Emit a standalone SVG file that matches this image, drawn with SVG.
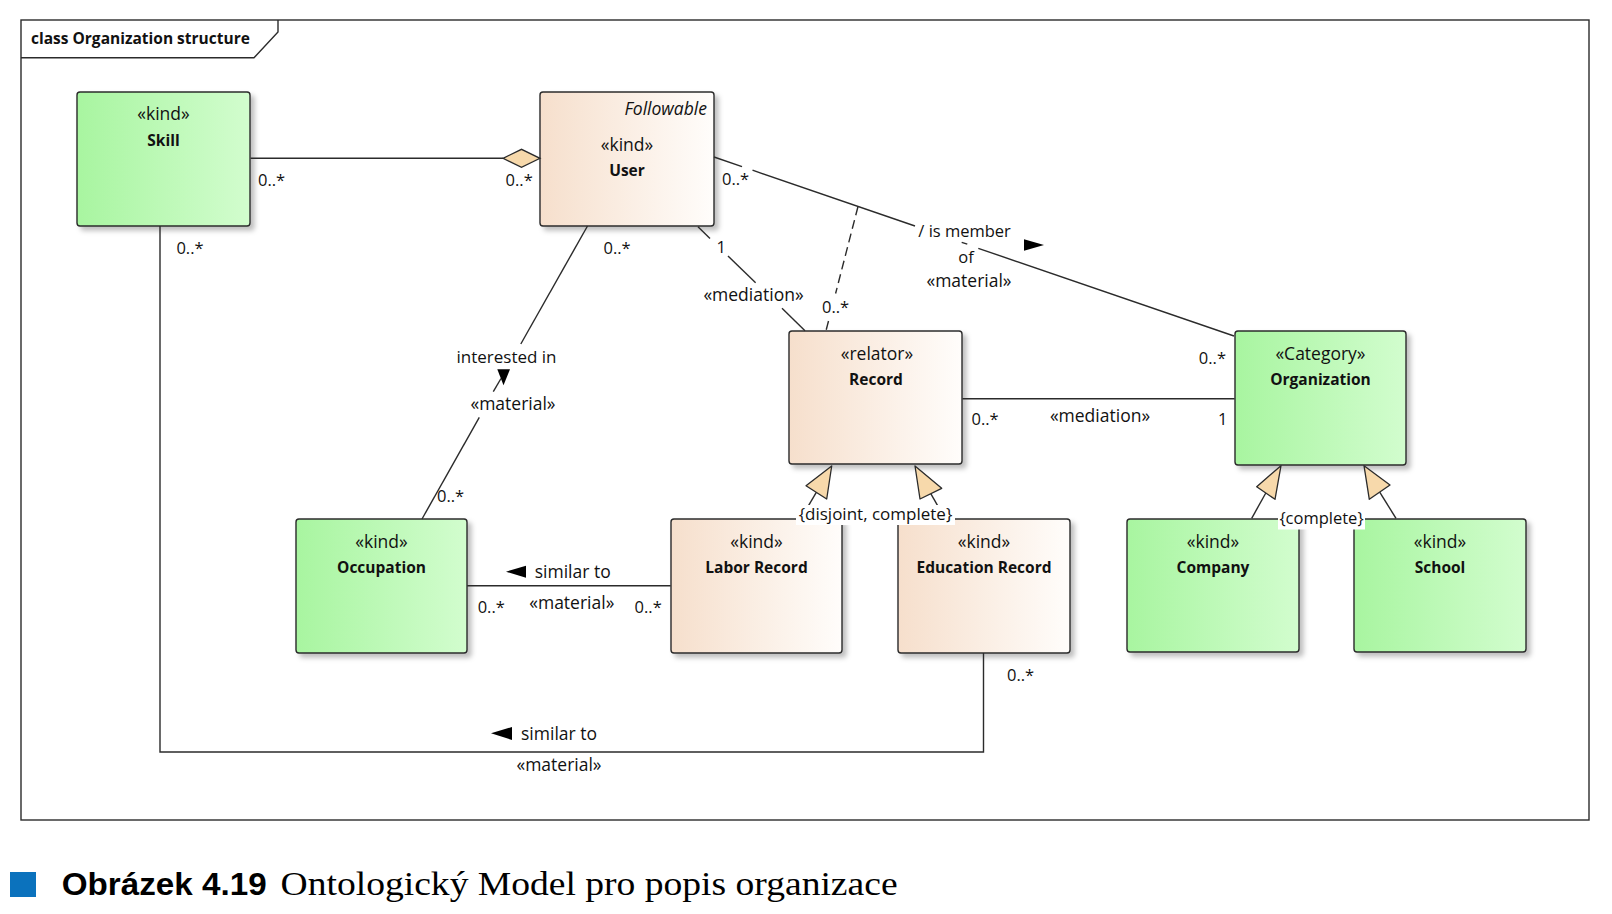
<svg xmlns="http://www.w3.org/2000/svg" width="1612" height="914" viewBox="0 0 1612 914">
<defs>
<linearGradient id="gGreen" x1="0" y1="0" x2="1" y2="0"><stop offset="0" stop-color="#a8f5a0"/><stop offset="1" stop-color="#d2fdce"/></linearGradient>
<linearGradient id="gBeige" x1="0" y1="0" x2="1" y2="0"><stop offset="0" stop-color="#f6dfcc"/><stop offset="1" stop-color="#fffdfb"/></linearGradient>
<filter id="sh" x="-10%" y="-10%" width="130%" height="130%"><feDropShadow dx="4" dy="4" stdDeviation="2.5" flood-color="#000" flood-opacity="0.25"/></filter>
</defs>
<style>
.box{stroke:#2b2b2b;stroke-width:1.4;filter:url(#sh)}
.green{fill:url(#gGreen)}
.beige{fill:url(#gBeige)}
text{font-family:"Open Sans","Noto Sans","DejaVu Sans",sans-serif;fill:#111}
.st{font-size:17.5px;text-anchor:middle}
.nm{font-size:15.5px;font-weight:bold;text-anchor:middle}
.lb{font-size:16.5px}
.lbm{font-size:16.5px;text-anchor:middle}
.big{font-size:17.5px}
.ln{fill:none;stroke:#2b2b2b;stroke-width:1.4}
.dash{stroke-dasharray:9 5}
.arr{fill:#000}
.gen{fill:#f7d9ab;stroke:#2b2b2b;stroke-width:1.3;stroke-linejoin:round}
.dia{fill:#f7d9ab;stroke:#2b2b2b;stroke-width:1.3}
.bg{fill:#fff}
</style>
<rect width="1612" height="914" fill="#fff"/>
<g id="frame">
<rect x="21" y="20" width="1568" height="800" fill="none" stroke="#2b2b2b" stroke-width="1.4"/>
<polyline points="21,57.7 254,57.7 278,32 278,20" fill="none" stroke="#2b2b2b" stroke-width="1.4"/>
<text x="31" y="44" style="font-size:15.5px;font-weight:bold">class Organization structure</text>
</g>
<g id="nodes">
<g id="skill"><rect class="box green" x="77" y="92" width="173" height="134" rx="3"/><text class="st" x="163.5" y="120">«kind»</text><text class="nm" x="163.5" y="146">Skill</text></g>
<g id="user"><rect class="box beige" x="540" y="92" width="174" height="134" rx="3"/><text x="707" y="115" style="font-size:17.5px;font-style:italic;text-anchor:end">Followable</text><text class="st" x="627" y="151">«kind»</text><text class="nm" x="627" y="176">User</text></g>
<g id="record"><rect class="box beige" x="789" y="331" width="173" height="133" rx="3"/><text class="st" x="877" y="360">«relator»</text><text class="nm" x="876" y="385">Record</text></g>
<g id="organization"><rect class="box green" x="1235" y="331" width="171" height="134" rx="3"/><text class="st" x="1320.5" y="360">«Category»</text><text class="nm" x="1320.5" y="385">Organization</text></g>
<g id="occupation"><rect class="box green" x="296" y="519" width="171" height="134" rx="3"/><text class="st" x="381.5" y="548">«kind»</text><text class="nm" x="381.5" y="573">Occupation</text></g>
<g id="labor-record"><rect class="box beige" x="671" y="519" width="171" height="134" rx="3"/><text class="st" x="756.5" y="548">«kind»</text><text class="nm" x="756.5" y="573">Labor Record</text></g>
<g id="education-record"><rect class="box beige" x="898" y="519" width="172" height="134" rx="3"/><text class="st" x="984" y="548">«kind»</text><text class="nm" x="984" y="573">Education Record</text></g>
<g id="company"><rect class="box green" x="1127" y="519" width="172" height="133" rx="3"/><text class="st" x="1213" y="548">«kind»</text><text class="nm" x="1213" y="573">Company</text></g>
<g id="school"><rect class="box green" x="1354" y="519" width="172" height="133" rx="3"/><text class="st" x="1440" y="548">«kind»</text><text class="nm" x="1440" y="573">School</text></g>
</g>
<g id="connectors">
<g id="c-skill-user">
<line class="ln" x1="250.6" y1="158.3" x2="503" y2="158.3"/>
<polygon class="dia" points="503,158.3 521.5,149.3 540,158.3 521.5,167.3"/>
<text class="lb" x="258" y="186">0..*</text>
<text class="lb" x="505.6" y="186">0..*</text>
</g>
<g id="c-skill-education">
<path class="ln" d="M160,226 V752 H983.5 V653"/>
<polygon class="arr" points="491,733.3 512,727 512,740"/>
<text class="lb big" x="521" y="740">similar to</text>
<text class="lbm big" x="559" y="771">«material»</text>
<text class="lb" x="176.4" y="254">0..*</text>
<text class="lb" x="1007" y="681">0..*</text>
</g>
<g id="c-user-occupation">
<line class="ln" x1="587.5" y1="226" x2="520.8" y2="344"/>
<line class="ln" x1="501" y1="378.5" x2="493.3" y2="391.7"/>
<line class="ln" x1="479.3" y1="417.3" x2="422" y2="519"/>
<polygon class="arr" points="497.3,369.3 510,369.3 503.5,385.3"/>
<text class="lbm" x="506.5" y="363" style="font-size:17px">interested in</text>
<text class="lbm big" x="513" y="410">«material»</text>
<text class="lb" x="603.5" y="253.5">0..*</text>
<text class="lb" x="437" y="501.5">0..*</text>
</g>
<g id="c-user-organization">
<line class="ln" x1="714" y1="157" x2="742" y2="166.6"/>
<line class="ln" x1="752.5" y1="170.2" x2="915" y2="226"/>
<line class="ln" x1="961.7" y1="242.3" x2="967.3" y2="244.2"/>
<line class="ln" x1="978.3" y1="248.3" x2="1234" y2="336"/>
<polygon class="arr" points="1024,239.3 1024,250.7 1044,245"/>
<text class="lb" x="918.3" y="236.7">/ is member</text>
<text class="lbm" x="966" y="262.7">of</text>
<text class="lbm big" x="969" y="287.3">«material»</text>
<text class="lb" x="722" y="185">0..*</text>
<text class="lb" x="1198.8" y="364">0..*</text>
</g>
<g id="c-record-assoc">
<line class="ln dash" x1="858" y1="206.5" x2="835.6" y2="293.5"/>
<line class="ln dash" x1="828.5" y1="321" x2="826" y2="330.7"/>
<text class="lb" x="822" y="313">0..*</text>
</g>
<g id="c-user-record">
<line class="ln" x1="698" y1="226.7" x2="710" y2="238.4"/>
<line class="ln" x1="728" y1="256" x2="755.6" y2="282.7"/>
<line class="ln" x1="782" y1="308.3" x2="805" y2="330.7"/>
<text class="lb" x="716.4" y="253">1</text>
<text class="lbm big" x="753.5" y="301">«mediation»</text>
</g>
<g id="c-record-organization">
<line class="ln" x1="962.4" y1="398.7" x2="1234.6" y2="398.7"/>
<text class="lb" x="971.5" y="425">0..*</text>
<text class="lbm big" x="1100" y="422">«mediation»</text>
<text class="lb" x="1218" y="425">1</text>
</g>
<g id="c-labor-occupation">
<line class="ln" x1="467.2" y1="585.7" x2="670.7" y2="585.7"/>
<polygon class="arr" points="506,571.7 526,565.7 526,577.7"/>
<text class="lb big" x="534.7" y="577.5">similar to</text>
<text class="lbm big" x="571.8" y="608.5">«material»</text>
<text class="lb" x="477.7" y="613.3">0..*</text>
<text class="lb" x="634.6" y="613.3">0..*</text>
</g>
<g id="c-gen-record">
<line class="ln" x1="800.7" y1="519" x2="816.3" y2="492.3"/>
<polygon class="gen" points="831.7,466 806,485.7 826.7,499"/>
<line class="ln" x1="945.2" y1="519" x2="930.8" y2="493.7"/>
<polygon class="gen" points="915,466 941.7,488.3 920,499"/>
<rect class="bg" x="796" y="505" width="159" height="20"/>
<text class="lbm" x="875.5" y="519.5" style="font-size:17px">{disjoint, complete}</text>
</g>
<g id="c-gen-organization">
<line class="ln" x1="1251.7" y1="518.3" x2="1265.8" y2="493"/>
<polygon class="gen" points="1281,465.7 1256.7,486.7 1275,499.3"/>
<line class="ln" x1="1396" y1="518.3" x2="1379.7" y2="492.2"/>
<polygon class="gen" points="1364,465.7 1390,485 1369.3,499.3"/>
<rect class="bg" x="1278" y="510.5" width="87" height="19"/>
<text class="lbm" x="1321.5" y="524">{complete}</text>
</g>
</g>
<g id="caption">
<rect x="10" y="872" width="26" height="25" fill="#0b72bd"/>
<text x="61.7" y="895" textLength="205" lengthAdjust="spacingAndGlyphs" style="font-family:'Liberation Sans',Arial,sans-serif;font-size:31px;font-weight:bold;fill:#000">Obrázek 4.19</text>
<text x="280.6" y="895" textLength="617" lengthAdjust="spacingAndGlyphs" style="font-family:'Liberation Serif','Times New Roman',serif;font-size:33px;fill:#000">Ontologický Model pro popis organizace</text>
</g>
</svg>
